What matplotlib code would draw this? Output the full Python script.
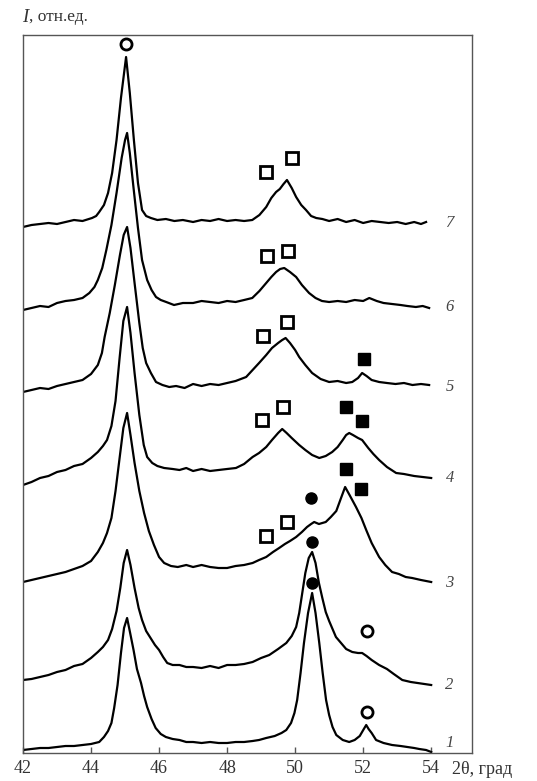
import matplotlib
matplotlib.use("Agg")
import matplotlib.pyplot as plt

plt.rcParams['font.family'] = ['Liberation Serif', 'DejaVu Serif']

# ---- data (2theta in degrees, intensity in relative units, offset stacked) ----
x1 = [42.0, 42.25, 42.5, 42.75, 43.0, 43.25, 43.5, 43.75, 44.0, 44.24, 44.38, 44.5, 44.6, 44.68, 44.78,
      44.88, 44.97, 45.06, 45.15, 45.25, 45.35, 45.47, 45.56, 45.65, 45.78, 45.9, 46.05, 46.2, 46.4,
      46.6, 46.8, 47.0, 47.25, 47.5, 47.75, 48.0, 48.25, 48.5, 48.75, 48.94, 49.15, 49.4, 49.6, 49.74,
      49.88, 49.98, 50.06, 50.16, 50.26, 50.38, 50.5, 50.6, 50.71, 50.81, 50.91, 51.0, 51.1, 51.21,
      51.4, 51.59, 51.75, 51.9, 52.02, 52.09, 52.16, 52.25, 52.38, 52.6, 52.85, 53.1, 53.3, 53.5,
      53.65, 53.85, 54.0]
y1 = [3, 4, 5, 5, 6, 7, 7, 8, 9, 11, 16, 22, 30, 45, 68,
      100, 125, 135, 120, 103, 84, 70, 57, 46, 34, 25, 19, 16, 14,
      13, 11, 11, 10, 11, 10, 10, 11, 11, 12, 13, 15, 17, 20, 23,
      30, 40, 53, 80, 110, 140, 160, 140, 110, 80, 53, 38, 26, 18,
      13, 11, 13, 17, 24, 28, 24, 20, 13, 10, 8, 7, 6, 5,
      4, 3, 1]

x2 = [42.0, 42.25, 42.5, 42.75, 43.0, 43.25, 43.5, 43.75, 44.0, 44.2, 44.35, 44.5, 44.62, 44.75, 44.86,
      44.96, 45.06, 45.16, 45.28, 45.4, 45.5, 45.62, 45.75, 45.88, 46.0, 46.12, 46.24, 46.4, 46.6, 46.8,
      47.0, 47.25, 47.5, 47.75, 48.0, 48.25, 48.5, 48.75, 49.0, 49.24, 49.5, 49.74, 49.9, 50.03, 50.12,
      50.21, 50.3, 50.4, 50.5, 50.6, 50.7, 50.8, 50.9, 51.0, 51.1, 51.2, 51.35, 51.5, 51.68, 51.85,
      51.97, 52.1, 52.25, 52.47, 52.7, 52.9, 53.15, 53.4, 53.6, 53.8, 54.0]
y2 = [73, 74, 76, 78, 81, 83, 87, 89, 95, 101, 106, 113, 124, 142, 165,
      190, 203, 188, 165, 145, 133, 122, 115, 108, 103, 96, 90, 88, 88, 86,
      86, 85, 87, 85, 88, 88, 89, 91, 95, 98, 104, 110, 117, 126, 140,
      160, 180, 195, 201, 190, 170, 155, 141, 132, 124, 116, 110, 104, 101, 100,
      100, 97, 93, 88, 84, 79, 73, 71, 70, 69, 68]

x3 = [42.0, 42.25, 42.5, 42.75, 43.0, 43.25, 43.5, 43.75, 44.0, 44.2, 44.35, 44.47, 44.6, 44.72, 44.84,
      44.95, 45.06, 45.16, 45.28, 45.42, 45.56, 45.7, 45.85, 46.0, 46.15, 46.35, 46.55, 46.8, 47.0,
      47.25, 47.5, 47.75, 48.0, 48.25, 48.5, 48.75, 48.94, 49.15, 49.35, 49.53, 49.7, 49.85, 50.03,
      50.2, 50.35, 50.47, 50.56, 50.7, 50.9, 51.05, 51.21, 51.35, 51.47, 51.6, 51.79, 51.95, 52.09,
      52.25, 52.47, 52.65, 52.85, 53.05, 53.25, 53.44, 53.7, 54.0]
y3 = [171, 173, 175, 177, 179, 181, 184, 187, 192, 201, 210, 220, 235, 262, 295,
      325, 340, 318, 290, 262, 240, 222, 208, 196, 190, 187, 186, 188, 186,
      188, 186, 185, 185, 187, 188, 190, 193, 196, 201, 205, 209, 212, 216,
      221, 226, 229, 231, 229, 231, 236, 242, 255, 266, 258, 246, 235, 223,
      210, 196, 188, 181, 179, 176, 175, 173, 171]

x4 = [42.0, 42.25, 42.5, 42.75, 43.0, 43.25, 43.5, 43.75, 44.0, 44.2, 44.35, 44.47, 44.6, 44.72, 44.84,
      44.95, 45.06, 45.16, 45.28, 45.42, 45.55, 45.65, 45.8, 45.95, 46.15, 46.4, 46.6, 46.8, 47.0,
      47.25, 47.5, 47.75, 48.0, 48.26, 48.5, 48.75, 48.94, 49.15, 49.32, 49.5, 49.62, 49.75, 49.9,
      50.12, 50.3, 50.5, 50.71, 50.9, 51.09, 51.25, 51.4, 51.5, 51.59, 51.7, 51.85, 51.97, 52.15,
      52.3, 52.47, 52.7, 52.97, 53.2, 53.5, 53.75, 54.0]
y4 = [268, 271, 275, 277, 281, 283, 287, 289, 295, 301, 307, 313, 327, 352, 395,
      432, 446, 420, 380, 338, 308, 296, 290, 287, 285, 284, 283, 285, 282,
      284, 282, 283, 284, 285, 289, 296, 300, 306, 313, 320, 324, 320, 315,
      308, 303, 298, 295, 297, 301, 306, 313, 318, 320, 318, 315, 313, 305,
      299, 293, 286, 280, 279, 277, 276, 275]

x5 = [42.0, 42.25, 42.5, 42.75, 43.0, 43.25, 43.5, 43.75, 44.0, 44.2, 44.32, 44.4, 44.55, 44.7, 44.85,
      44.96, 45.06, 45.16, 45.28, 45.42, 45.52, 45.62, 45.76, 45.91, 46.1, 46.3, 46.5, 46.75, 47.0,
      47.25, 47.5, 47.75, 48.0, 48.25, 48.56, 48.75, 48.94, 49.15, 49.32, 49.5, 49.62, 49.72, 49.85,
      50.0, 50.12, 50.3, 50.5, 50.75, 51.0, 51.25, 51.5, 51.68, 51.85, 51.97, 52.1, 52.25, 52.47,
      52.7, 52.95, 53.2, 53.45, 53.7, 53.94]
y5 = [361, 363, 365, 364, 367, 369, 371, 373, 379, 388, 400, 416, 440, 468, 498,
      518, 526, 505, 470, 430, 405, 390, 380, 371, 368, 366, 367, 365, 369,
      367, 369, 368, 370, 372, 376, 383, 390, 398, 405, 410, 413, 415, 410,
      403, 396, 388, 380, 374, 371, 372, 370, 371, 375, 380, 377, 373, 371,
      370, 369, 370, 368, 369, 368]

x6 = [42.0, 42.25, 42.5, 42.75, 43.0, 43.25, 43.5, 43.75, 43.95, 44.1, 44.2, 44.33, 44.45, 44.6, 44.75,
      44.9, 45.0, 45.06, 45.14, 45.25, 45.38, 45.5, 45.65, 45.78, 45.91, 46.05, 46.21, 46.44, 46.7,
      47.0, 47.25, 47.5, 47.75, 48.0, 48.25, 48.5, 48.74, 48.95, 49.15, 49.3, 49.44, 49.56, 49.68,
      49.85, 50.03, 50.2, 50.41, 50.6, 50.79, 51.0, 51.25, 51.5, 51.75, 52.0, 52.18, 52.4, 52.6,
      52.85, 53.1, 53.3, 53.55, 53.75, 53.94]
y6 = [443, 445, 447, 446, 450, 452, 453, 455, 460, 466, 473, 485, 503, 528, 560,
      595, 613, 620, 600, 565, 525, 493, 473, 463, 456, 453, 451, 448, 450,
      450, 452, 451, 450, 452, 451, 453, 455, 462, 470, 476, 481, 484, 485,
      481, 476, 468, 460, 455, 452, 451, 452, 451, 453, 452, 455, 452, 450,
      449, 448, 447, 446, 447, 445]

x7 = [42.0, 42.25, 42.5, 42.75, 43.0, 43.25, 43.5, 43.75, 44.03, 44.15, 44.24, 44.38, 44.5, 44.62, 44.75,
      44.88, 45.03, 45.14, 45.26, 45.38, 45.5, 45.62, 45.76, 45.95, 46.2, 46.45, 46.7, 47.0, 47.25,
      47.5, 47.75, 48.0, 48.25, 48.5, 48.74, 48.95, 49.15, 49.3, 49.44, 49.55, 49.66, 49.76, 49.9,
      50.03, 50.18, 50.32, 50.47, 50.62, 50.8, 51.0, 51.25, 51.5, 51.75, 52.0, 52.25, 52.5, 52.75,
      53.0, 53.25, 53.5, 53.7, 53.85]
y7 = [526, 528, 529, 530, 529, 531, 533, 532, 535, 537, 541, 548, 560, 580, 613,
      655, 696, 660, 613, 570, 543, 537, 535, 533, 534, 532, 533, 531, 533,
      532, 534, 532, 533, 532, 533, 538, 546, 555, 561, 564, 569, 573, 565,
      556, 548, 543, 537, 535, 534, 532, 534, 531, 533, 530, 532, 531, 530,
      531, 529, 531, 529, 531]

curves_x = [x1, x2, x3, x4, x5, x6, x7]
curves_y = [y1, y2, y3, y4, y5, y6, y7]
curve_labels = ['1', '2', '3', '4', '5', '6', '7']
label_y = [10, 68, 170, 275, 366, 446, 530]

# phase markers
open_circle_x = [45.03, 52.12, 52.12]
open_circle_y = [709, 122, 41]
filled_circle_x = [50.47, 50.5, 50.5]
filled_circle_y = [255, 211, 170]
open_square_x = [49.15, 49.91, 49.18, 49.79, 49.06, 49.76, 49.03, 49.65, 49.15, 49.76]
open_square_y = [581, 595, 497, 502, 417, 431, 333, 346, 217, 231]
filled_square_x = [52.03, 51.5, 51.97, 51.5, 51.94]
filled_square_y = [394, 346, 332, 284, 264]

xticks = [42, 44, 46, 48, 50, 52, 54]

# ---- figure ----
fig = plt.figure(figsize=(5.37, 7.81), dpi=100)
ax = fig.add_axes([23/537, 28/781, (472-23)/537, (753-35)/781])

for xs, ys in zip(curves_x, curves_y):
    ax.plot(xs, ys, color='black', lw=1.6, solid_joinstyle='round')

for lab, ly in zip(curve_labels, label_y):
    ax.text(54.42, ly, lab, fontsize=12, style='italic', color='#444444',
            ha='left', va='center')

ax.plot(open_circle_x, open_circle_y, 'o', ms=8, mfc='white', mec='black', mew=2, ls='none')
ax.plot(filled_circle_x, filled_circle_y, 'o', ms=8, mfc='black', mec='black', ls='none')
ax.plot(open_square_x, open_square_y, 's', ms=8, mfc='white', mec='black', mew=2, ls='none')
ax.plot(filled_square_x, filled_square_y, 's', ms=8, mfc='black', mec='black', ls='none')

ax.set_xlim(42, 55.2)
ax.set_ylim(0, 718)
ax.set_xticks(xticks)
ax.set_xticklabels([str(t) for t in xticks], fontsize=13, color='#333333')
ax.tick_params(axis='x', direction='in', length=4, width=1, pad=5, colors='#555555',
               labelcolor='#333333')
ax.set_yticks([])
for s in ax.spines.values():
    s.set_color('#555555')
    s.set_linewidth(1.0)

fig.text(452/537, 1 - 770/781, '2θ, град', fontsize=13, color='#333333', ha='left', va='center')
fig.text(22/537, 1 - 17/781, 'I', fontsize=13.5, style='italic', color='#333333', ha='left', va='center')
fig.text(29/537, 1 - 17/781, ', отн.ед.', fontsize=12.5, color='#333333', ha='left', va='center')

fig.savefig('out.png', dpi=100)
